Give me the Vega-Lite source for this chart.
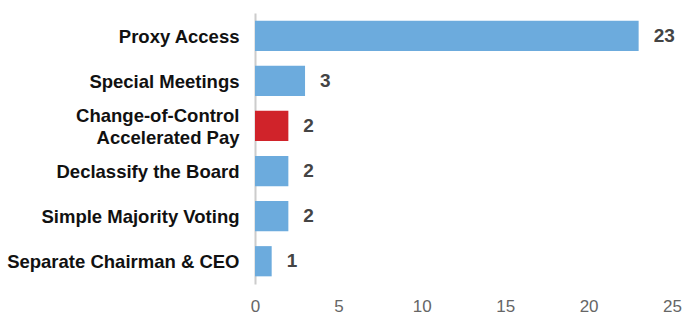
{
  "$schema": "https://vega.github.io/schema/vega-lite/v6.json",
  "width": 417,
  "height": 271,
  "autosize": {"type": "none"},
  "padding": {"left": 255, "top": 13, "right": 12, "bottom": 31},
  "background": "white",
  "config": {"view": {"stroke": null}, "font": "Liberation Sans"},
  "data": {
    "values": [
      {"topic": "Proxy Access", "count": 23, "hl": "no"},
      {"topic": "Special Meetings", "count": 3, "hl": "no"},
      {"topic": "Change-of-Control Accelerated Pay", "count": 2, "hl": "yes"},
      {"topic": "Declassify the Board", "count": 2, "hl": "no"},
      {"topic": "Simple Majority Voting", "count": 2, "hl": "no"},
      {"topic": "Separate Chairman & CEO", "count": 1, "hl": "no"}
    ]
  },
  "encoding": {
    "y": {
      "field": "topic",
      "type": "nominal",
      "sort": null,
      "scale": {"paddingInner": 0.33, "paddingOuter": 0.17},
      "axis": {
        "title": null,
        "ticks": false,
        "domainColor": "#cccccc",
        "domainWidth": 2,
        "labelFont": "Liberation Sans",
        "labelFontSize": 18.5,
        "labelFontWeight": "bold",
        "labelColor": "#111111",
        "labelPadding": 16,
        "labelLimit": 300,
        "labelLineHeight": 22,
        "labelOffset": {"condition": {"test": "datum.value == 'Change-of-Control Accelerated Pay'", "value": -10}, "value": 1},
        "labelExpr": "datum.label == 'Change-of-Control Accelerated Pay' ? ['Change-of-Control', 'Accelerated Pay'] : datum.label"
      }
    },
    "x": {
      "field": "count",
      "type": "quantitative",
      "scale": {"domain": [0, 25]},
      "axis": {
        "title": null,
        "values": [0, 5, 10, 15, 20, 25],
        "grid": false,
        "domain": false,
        "ticks": false,
        "labelFlush": false,
        "labelFont": "Liberation Sans",
        "labelFontSize": 17,
        "labelColor": "#666666",
        "labelPadding": 14
      }
    }
  },
  "layer": [
    {
      "mark": {"type": "bar"},
      "encoding": {
        "color": {
          "field": "hl",
          "type": "nominal",
          "scale": {"domain": ["no", "yes"], "range": ["#6cabdd", "#d0232a"]},
          "legend": null
        }
      }
    },
    {
      "mark": {"type": "text", "align": "left", "dx": 15, "fontSize": 19, "fontWeight": "bold", "color": "#444444", "font": "Liberation Sans"},
      "encoding": {"text": {"field": "count", "type": "quantitative"}}
    }
  ]
}
